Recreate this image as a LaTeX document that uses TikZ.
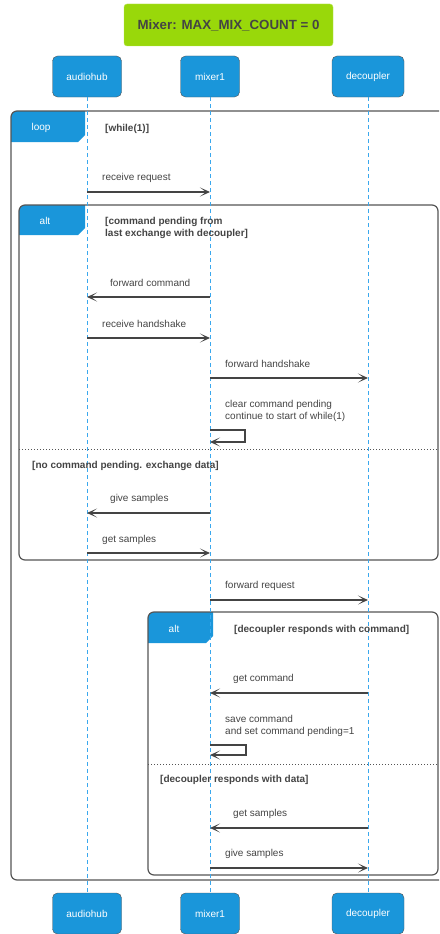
\documentclass[tikz,border=0pt]{standalone}
\usepackage{fontspec}
\setmainfont{Liberation Sans}
\usetikzlibrary{arrows.meta,positioning}
\definecolor{hubblue}{HTML}{1A96DA}
\definecolor{lifeblue}{HTML}{3AA8EE}
\definecolor{titlegreen}{HTML}{99D80A}
\definecolor{inkgrey}{HTML}{444444}
\definecolor{framegrey}{HTML}{555555}
\tikzset{
  titlebox/.style={rounded corners=3pt, draw=titlegreen!70!white, fill=titlegreen, text=inkgrey,
    minimum width=209pt, minimum height=42pt, font=\bfseries\fontsize{13.3}{15}\selectfont},
  actor/.style={rounded corners=5pt, draw=framegrey, fill=hubblue, text=white, minimum height=41pt,
    inner sep=0pt, font=\fontsize{10}{12}\selectfont},
  lifeline/.style={draw=lifeblue, dash pattern=on 4pt off 3pt, line width=1pt},
  msg/.style={-{Stealth[length=10pt,width=9pt,inset=6pt]}, draw=inkgrey, line width=1.2pt},
  lbl/.style={anchor=west, text=inkgrey, inner sep=0pt, align=left, yshift=-1.5pt,
    font=\fontsize{10}{12}\selectfont},
  cond/.style={lbl, font=\bfseries\fontsize{10}{12}\selectfont},
  tabtext/.style={text=white, inner sep=0pt, yshift=-1pt, font=\fontsize{10}{12}\selectfont},
  frame/.style={draw=framegrey, line width=1.2pt, rounded corners=6pt},
  divider/.style={draw=framegrey, dotted, line width=1pt}
}
\begin{document}
\begin{tikzpicture}[x=1pt, y=-1pt]
\clip (0,0) rectangle (439,934);

\node (title) [titlebox] at (228.5,25) {Mixer: MAX\_MIX\_COUNT = 0};

% participants
\node (ah) [actor, minimum width=69pt] at (87,76.5) {audiohub};
\node (mx) [actor, minimum width=59pt] at (210,76.5) {mixer1};
\node (dc) [actor, minimum width=72pt] at (368,76.5) {decoupler};
\node (ahb) [actor, minimum width=69pt] at (87,913.5) {audiohub};
\node (mxb) [actor, minimum width=59pt] at (210,913.5) {mixer1};
\node (dcb) [actor, minimum width=72pt] at (368,913.5) {decoupler};

% loop frame
\fill[hubblue] (11,142) [rounded corners=6pt] -- (11,111) [sharp corners] -- (85,111) -- (85,135) -- (78,142) -- cycle;
\draw[frame] (11,111) rectangle (470,880);

% alt frames
\fill[hubblue] (19,235) [rounded corners=6pt] -- (19,205) [sharp corners] -- (85,205) -- (85,228) -- (78,235) -- cycle;
\draw[frame] (19,205) rectangle (438,560);
\draw[divider] (19,449) -- (438,449);

\fill[hubblue] (148,643) [rounded corners=6pt] -- (148,612) [sharp corners] -- (213,612) -- (213,636) -- (206,643) -- cycle;
\draw[frame] (148,612) rectangle (438,875);
\draw[divider] (148,764) -- (438,764);

% lifelines
\foreach \top/\bot in {ah/ahb, mx/mxb, dc/dcb}{
  \draw[lifeline] (\top.south) -- (\bot.north);
}

% frame texts
\node[tabtext] at (41,127) {loop};
\node[cond] at (105,127) {[while(1)]};
\node[tabtext] at (45,220) {alt};
\node[cond] at (105,226) {[command pending from\\last exchange with decoupler]};
\node[cond] at (32,464) {[no command pending. exchange data]};
\node[tabtext] at (174,628) {alt};
\node[cond] at (234,628) {[decoupler responds with command]};
\node[cond] at (160,778) {[decoupler responds with data]};

% messages
\foreach \a/\b/\y in {ah/mx/192, mx/ah/297, ah/mx/338, mx/dc/378, mx/ah/513,
                      ah/mx/553, mx/dc/600, dc/mx/693, dc/mx/828, mx/dc/868}{
  \draw[msg] (\a |- 0,\y) -- (\b |- 0,\y);
}
\draw[msg] (mx |- 0,430) -- ++(35,0) -- ++(0,12) -- (mx |- 0,442);
\draw[msg] (mx |- 0,745) -- ++(36,0) -- ++(0,10) -- (mx |- 0,755);

\node[lbl] at (102,176) {receive request};
\node[lbl] at (110,281) {forward command};
\node[lbl] at (102,322) {receive handshake};
\node[lbl] at (225,362) {forward handshake};
\node[lbl] at (225,409) {clear command pending\\continue to start of while(1)};
\node[lbl] at (110,497) {give samples};
\node[lbl] at (102,538) {get samples};
\node[lbl] at (225,584) {forward request};
\node[lbl] at (233,677) {get command};
\node[lbl] at (225,724) {save command\\and set command pending=1};
\node[lbl] at (233,812) {get samples};
\node[lbl] at (225,852) {give samples};

\end{tikzpicture}
\end{document}
